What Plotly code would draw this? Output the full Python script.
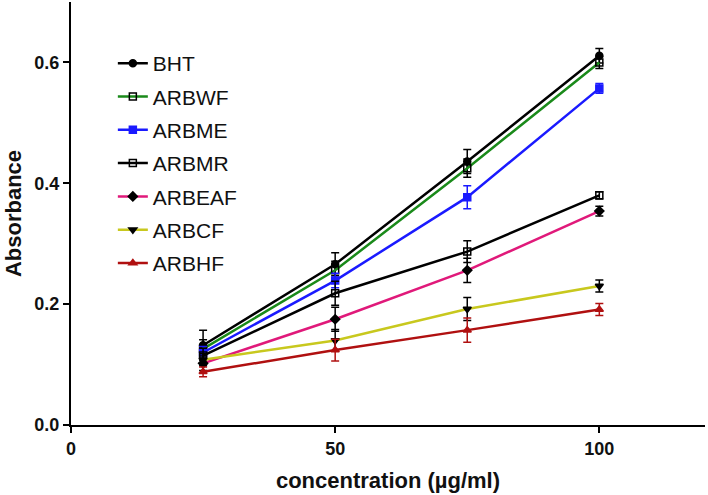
import plotly.graph_objects as go

conc = [25, 50, 75, 100]
names = ["BHT", "ARBWF", "ARBME", "ARBMR", "ARBEAF", "ARBCF", "ARBHF"]
bht = [0.132, 0.266, 0.436, 0.611]
arbwf = [0.126, 0.256, 0.425, 0.600]
arbme = [0.120, 0.239, 0.377, 0.557]
arbmr = [0.115, 0.218, 0.287, 0.380]
arbeaf = [0.102, 0.175, 0.256, 0.354]
arbcf = [0.108, 0.140, 0.192, 0.230]
arbhf = [0.088, 0.124, 0.157, 0.191]
err_bht = [0.025, 0.019, 0.020, 0.012]
err_arbwf = [0.015, 0.015, 0.015, 0.010]
err_arbme = [0.010, 0.012, 0.019, 0.008]
err_arbmr = [0.012, 0.020, 0.018, 0.006]
err_arbeaf = [0.012, 0.020, 0.020, 0.008]
err_arbcf = [0.010, 0.018, 0.019, 0.010]
err_arbhf = [0.008, 0.018, 0.020, 0.010]

series = [bht, arbwf, arbme, arbmr, arbeaf, arbcf, arbhf]
errs = [err_bht, err_arbwf, err_arbme, err_arbmr, err_arbeaf, err_arbcf, err_arbhf]
line_colors = ["#000000", "#1a8a1a", "#1a1aff", "#000000", "#e0197a", "#c8c81e", "#b01010"]
marker_colors = ["#000000", "#000000", "#1a1aff", "#000000", "#000000", "#000000", "#b01010"]
err_colors = ["#000000", "#000000", "#1a1aff", "#000000", "#000000", "#000000", "#b01010"]
symbols = ["circle", "square-open", "square", "square-open", "diamond", "triangle-down", "triangle-up"]

fig = go.Figure()
for n, y, e, lc, mc, ec, s in zip(names, series, errs, line_colors, marker_colors, err_colors, symbols):
    fig.add_trace(go.Scatter(
        x=conc, y=y, name=n, mode="lines+markers", legendgroup=n,
        line=dict(color=lc, width=2.5),
        marker=dict(symbol=s, size=7, color=mc, line=dict(color=mc, width=1.5)),
        error_y=dict(type="data", array=e, visible=True, color=ec, thickness=1.5, width=4),
    ))

FONT = "Liberation Sans, Arial, sans-serif"
fig.update_layout(
    width=708, height=495,
    margin=dict(l=71, r=3, t=2, b=70),
    plot_bgcolor="white", paper_bgcolor="white",
    font=dict(family=FONT, color="#111111"),
    showlegend=True,
    legend=dict(x=0.066, y=0.903, xanchor="left", yanchor="top",
                font=dict(size=21, color="#111111"), tracegroupgap=3,
                bgcolor="rgba(0,0,0,0)"),
    xaxis=dict(range=[0, 120], tickvals=[0, 50, 100], showgrid=False, zeroline=False,
               automargin=False,
               showline=True, linecolor="black", linewidth=2, ticks="outside",
               ticklen=6, tickwidth=2, tickcolor="black",
               tickfont=dict(size=18, family=FONT, weight="bold"),
               title=dict(text="concentration (µg/ml)", standoff=15,
                          font=dict(size=22, weight="bold"))),
    yaxis=dict(range=[0, 0.7], tickvals=[0, 0.2, 0.4, 0.6], tickformat=".1f",
               showgrid=False, zeroline=False, automargin=False,
               showline=True, linecolor="black", linewidth=2, ticks="outside",
               ticklen=6, tickwidth=2, tickcolor="black",
               tickfont=dict(size=18, family=FONT, weight="bold"),
               title=dict(text="Absorbance", standoff=7,
                          font=dict(size=22, weight="bold"))),
)

fig.write_html("out.html", config={"displayModeBar": False},
               post_script="document.body.style.margin='0';")
